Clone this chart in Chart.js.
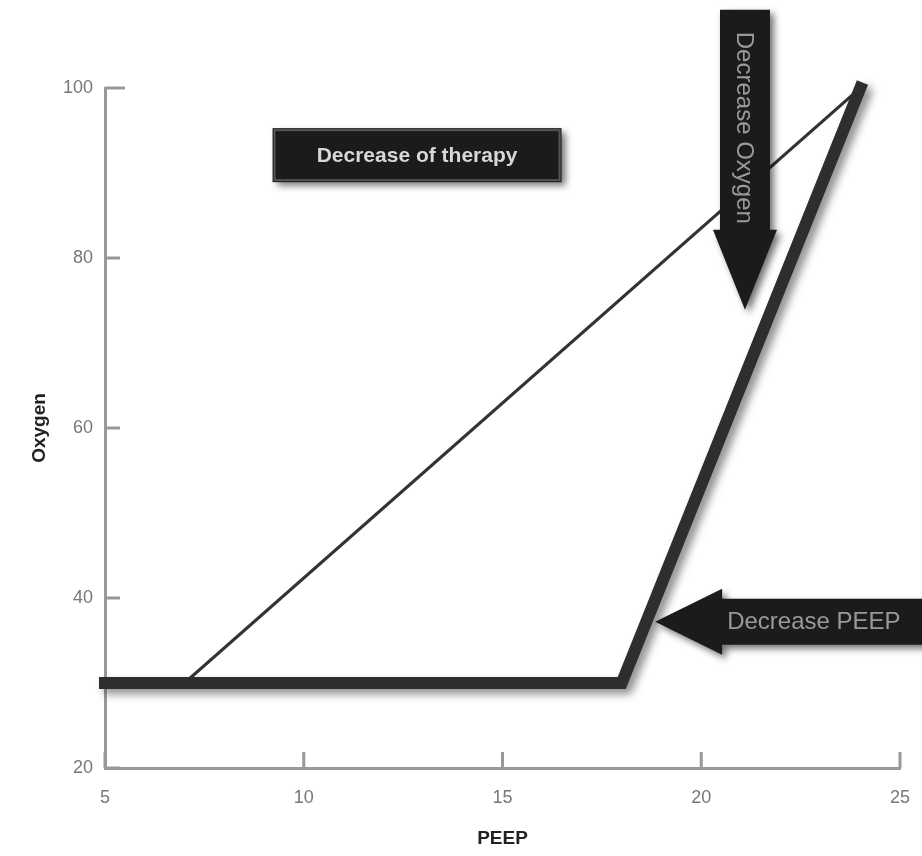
<!DOCTYPE html>
<html>
<head>
<meta charset="utf-8">
<script src="https://cdn.jsdelivr.net/npm/chart.js@4.4.0/dist/chart.umd.min.js"></script>
<style>
	html, body { margin: 0; padding: 0; background: #fff; }
	#chart { display: block; }
</style>
</head>
<body>
<canvas id="chart" width="922" height="856"></canvas>
<script>
// values
var peepLimit = [5, 18, 24];
var oxygenLimit = [30, 30, 100];
var peepTarget = [7, 24];
var oxygenTarget = [30, 100];
var peepTicks = [5, 10, 15, 20, 25];
var oxygenTicks = [20, 40, 60, 80, 100];

// annotations, in data units (x = PEEP, y = Oxygen)
var therapyLabel = {text: 'Decrease of therapy', x: 12.85, y: 92.1};
var oxygenArrow = {text: 'Decrease Oxygen', x: 21.1, top: 109.2, tip: 73.9};
var peepArrow = {text: 'Decrease PEEP', x: 18.84, y: 37.2};

function toPoints(xs, ys) {
	return xs.map(function (x, i) {
		return {x: x, y: ys[i]};
	});
}

/* thick limit line gets a soft shadow to the lower right */
var shadowPlugin = {
	id: 'lineShadow',
	beforeDatasetDraw: function (chart, args) {
		var ctx = chart.ctx;
		ctx.save();
		if (args.index == 0) {
			ctx.shadowColor = 'rgba(0,0,0,0.45)';
			ctx.shadowBlur = 9;
			ctx.shadowOffsetX = 5;
			ctx.shadowOffsetY = 5;
		}
	},
	afterDatasetDraw: function (chart) {
		chart.ctx.restore();
	}
};

/* small tick marks pointing into the plot */
var innerTicks = {
	id: 'innerTicks',
	afterDraw: function (chart) {
		var ctx = chart.ctx,
			xS = chart.scales.x,
			yS = chart.scales.y,
			area = chart.chartArea;
		ctx.save();
		ctx.strokeStyle = '#999';
		ctx.lineWidth = 3;
		peepTicks.forEach(function (v) {
			var px = xS.getPixelForValue(v);
			ctx.beginPath();
			ctx.moveTo(px, area.bottom);
			ctx.lineTo(px, area.bottom - 16);
			ctx.stroke();
		});
		oxygenTicks.forEach(function (v) {
			var py = yS.getPixelForValue(v);
			ctx.beginPath();
			ctx.moveTo(area.left, py);
			ctx.lineTo(area.left + (v == 100 ? 20 : 15), py);
			ctx.stroke();
		});
		ctx.restore();
	}
};

function shadowOn(ctx) {
	ctx.shadowColor = 'rgba(0,0,0,0.55)';
	ctx.shadowBlur = 7;
	ctx.shadowOffsetX = 4;
	ctx.shadowOffsetY = 4;
}

var annotations = {
	id: 'annotations',
	afterDraw: function (chart) {
		var ctx = chart.ctx,
			xS = chart.scales.x,
			yS = chart.scales.y;

		/* Decrease of therapy box */
		var cx = xS.getPixelForValue(therapyLabel.x),
			cy = yS.getPixelForValue(therapyLabel.y),
			w = 289, h = 54;
		ctx.save();
		shadowOn(ctx);
		ctx.fillStyle = '#1b1b1b';
		ctx.fillRect(cx - w / 2, cy - h / 2, w, h);
		ctx.restore();
		ctx.save();
		ctx.strokeStyle = '#555';
		ctx.lineWidth = 2;
		ctx.strokeRect(cx - w / 2 + 2, cy - h / 2 + 2, w - 4, h - 4);
		ctx.fillStyle = '#d8d8d8';
		ctx.font = 'bold 21px "Liberation Sans", Arial, sans-serif';
		ctx.textAlign = 'center';
		ctx.textBaseline = 'middle';
		ctx.fillText(therapyLabel.text, cx, cy + 1);
		ctx.restore();

		/* Decrease Oxygen arrow, pointing down */
		var ax = xS.getPixelForValue(oxygenArrow.x),
			top = yS.getPixelForValue(oxygenArrow.top),
			tip = yS.getPixelForValue(oxygenArrow.tip),
			shaft = 25, head = 32, headLen = 80;
		ctx.save();
		shadowOn(ctx);
		ctx.fillStyle = '#1b1b1b';
		ctx.beginPath();
		ctx.moveTo(ax - shaft, top);
		ctx.lineTo(ax + shaft, top);
		ctx.lineTo(ax + shaft, tip - headLen);
		ctx.lineTo(ax + head, tip - headLen);
		ctx.lineTo(ax, tip);
		ctx.lineTo(ax - head, tip - headLen);
		ctx.lineTo(ax - shaft, tip - headLen);
		ctx.closePath();
		ctx.fill();
		ctx.restore();
		ctx.save();
		ctx.translate(ax, (top + tip - headLen) / 2 + 8);
		ctx.rotate(Math.PI / 2);
		ctx.fillStyle = '#9a9a9a';
		ctx.font = '24px "Liberation Sans", Arial, sans-serif';
		ctx.textAlign = 'center';
		ctx.textBaseline = 'middle';
		ctx.fillText(oxygenArrow.text, 0, 1);
		ctx.restore();

		/* Decrease PEEP arrow, pointing left */
		var tx = xS.getPixelForValue(peepArrow.x),
			ty = yS.getPixelForValue(peepArrow.y),
			sh = 23, hh = 33, hl = 67,
			end = chart.width + 10;
		ctx.save();
		shadowOn(ctx);
		ctx.fillStyle = '#1b1b1b';
		ctx.beginPath();
		ctx.moveTo(tx, ty);
		ctx.lineTo(tx + hl, ty - hh);
		ctx.lineTo(tx + hl, ty - sh);
		ctx.lineTo(end, ty - sh);
		ctx.lineTo(end, ty + sh);
		ctx.lineTo(tx + hl, ty + sh);
		ctx.lineTo(tx + hl, ty + hh);
		ctx.closePath();
		ctx.fill();
		ctx.restore();
		ctx.save();
		ctx.fillStyle = '#9a9a9a';
		ctx.font = '24px "Liberation Sans", Arial, sans-serif';
		ctx.textAlign = 'left';
		ctx.textBaseline = 'middle';
		ctx.fillText(peepArrow.text, tx + hl + 5, ty + 1);
		ctx.restore();
	}
};

var tickFont = {family: '"Liberation Sans", Arial, sans-serif', size: 18};
var titleFont = {family: '"Liberation Sans", Arial, sans-serif', size: 19, weight: 'bold'};

new Chart(document.getElementById('chart'), {
	type: 'scatter',
	data: {
		datasets: [{
			data: toPoints(peepLimit, oxygenLimit),
			showLine: true,
			borderColor: '#2e2e2e',
			borderWidth: 12,
			pointRadius: 0,
			borderJoinStyle: 'miter',
			borderCapStyle: 'square',
			clip: false
		}, {
			data: toPoints(peepTarget, oxygenTarget),
			showLine: true,
			borderColor: '#333',
			borderWidth: 3,
			pointRadius: 0
		}]
	},
	options: {
		responsive: false,
		animation: false,
		devicePixelRatio: 1,
		layout: {padding: {top: 88, right: 22, bottom: 6, left: 26}},
		plugins: {
			legend: {display: false},
			tooltip: {enabled: false}
		},
		scales: {
			x: {
				type: 'linear',
				min: 5,
				max: 25,
				afterBuildTicks: function (scale) {
					scale.ticks = peepTicks.map(function (v) { return {value: v}; });
				},
				afterFit: function (scale) {
					scale.height = 82;
					scale.paddingLeft = 0;
					scale.paddingRight = 0;
				},
				grid: {display: true, drawOnChartArea: false, drawTicks: false},
				border: {color: '#999', width: 3},
				ticks: {color: '#777', font: tickFont, padding: 19, maxRotation: 0},
				title: {display: true, text: 'PEEP', color: '#222', font: titleFont, padding: {top: 0, bottom: 0}}
			},
			y: {
				type: 'linear',
				min: 20,
				max: 100,
				afterBuildTicks: function (scale) {
					scale.ticks = oxygenTicks.map(function (v) { return {value: v}; });
				},
				afterFit: function (scale) { scale.width = 79; },
				grid: {display: true, drawOnChartArea: false, drawTicks: false},
				border: {color: '#999', width: 3},
				ticks: {color: '#777', font: tickFont, padding: 12},
				title: {display: true, text: 'Oxygen', color: '#222', font: titleFont, padding: {top: 2, bottom: 0}}
			}
		}
	},
	plugins: [shadowPlugin, innerTicks, annotations]
});
</script>
</body>
</html>
